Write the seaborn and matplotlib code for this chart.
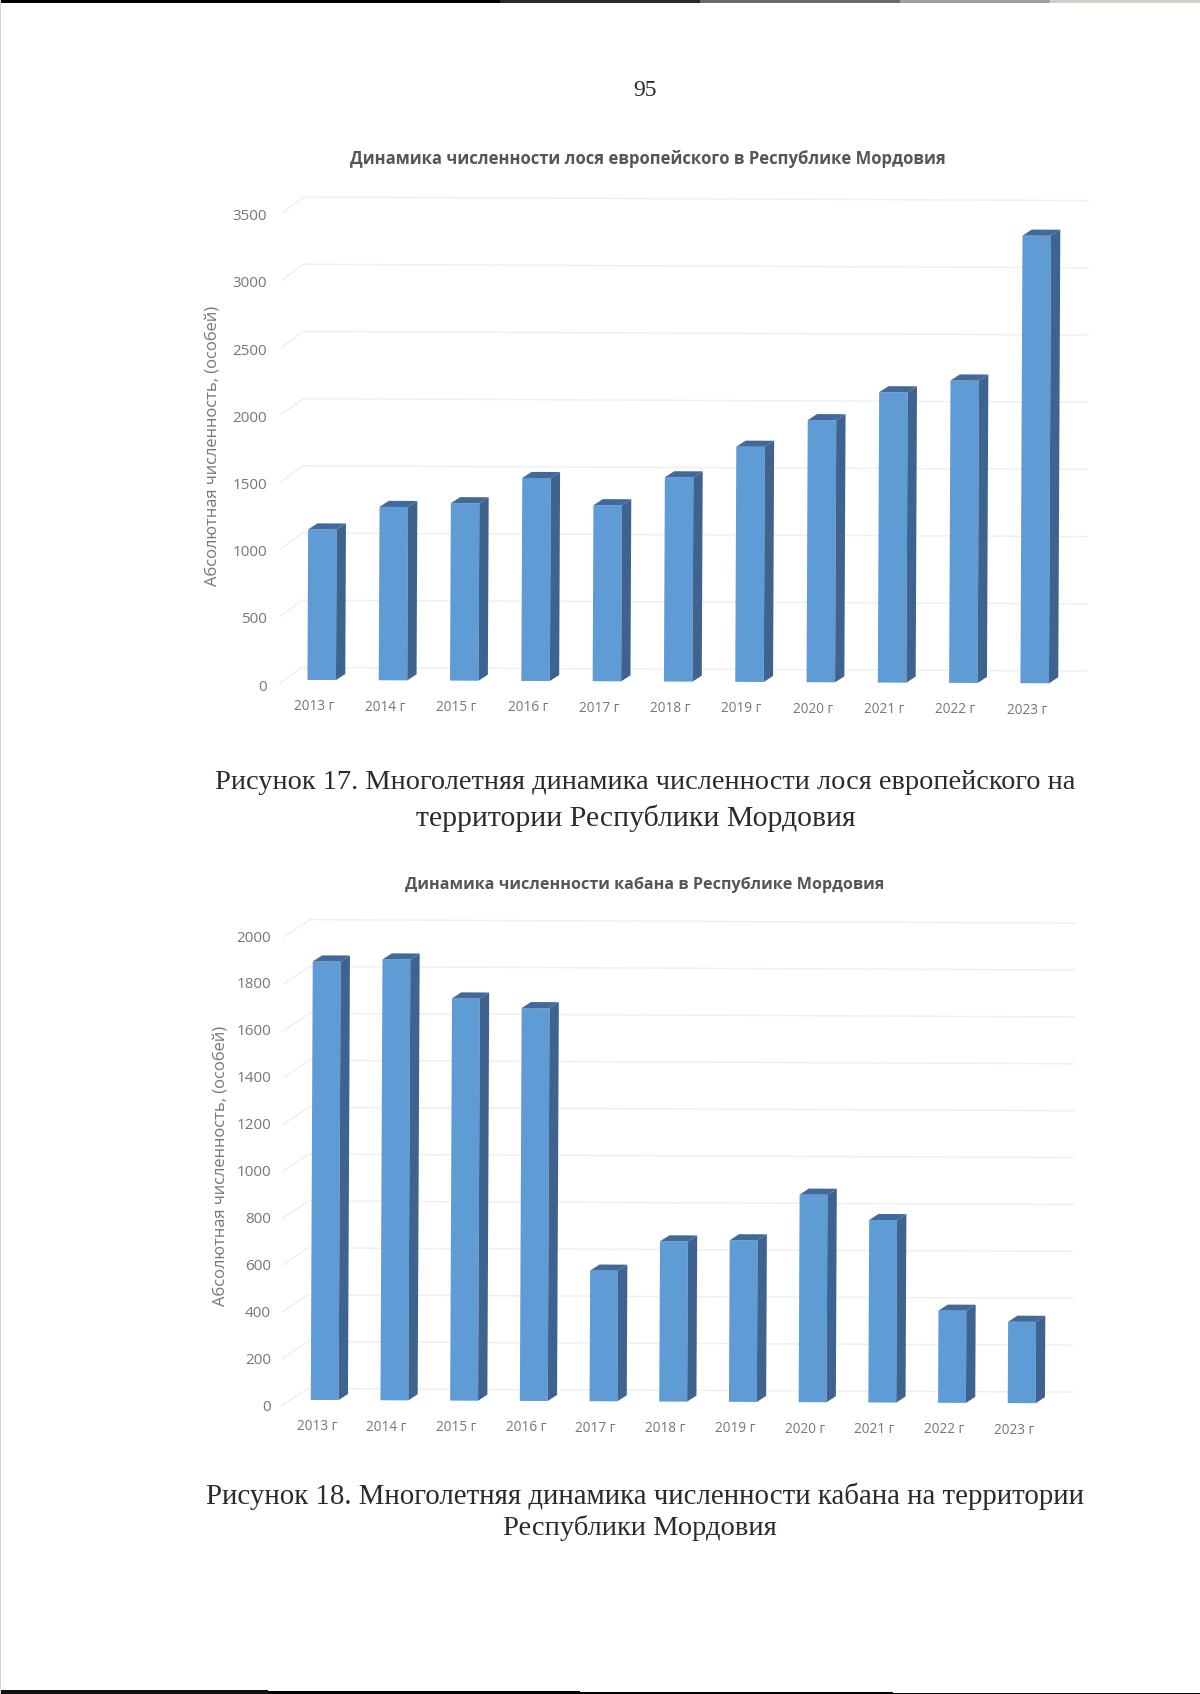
import matplotlib
matplotlib.use('Agg')
import matplotlib.pyplot as plt
import seaborn as sns
from matplotlib.patches import Polygon, Rectangle
from matplotlib.transforms import Affine2D

# Values
years = ['2013 г', '2014 г', '2015 г', '2016 г', '2017 г', '2018 г',
         '2019 г', '2020 г', '2021 г', '2022 г', '2023 г']
moose_counts = [1120, 1290, 1320, 1510, 1310, 1520, 1750, 1950, 2160, 2250, 3330]
boar_counts = [1870, 1880, 1715, 1675, 557, 683, 689, 885, 778, 393, 347]
moose_ticks = [0, 500, 1000, 1500, 2000, 2500, 3000, 3500]
boar_ticks = [0, 200, 400, 600, 800, 1000, 1200, 1400, 1600, 1800, 2000]

ylabel = 'Абсолютная численность, (особей)'
moose_title = 'Динамика численности лося европейского в Республике Мордовия'
boar_title = 'Динамика численности кабана в Республике Мордовия'

FRONT = '#5f9bd4'
SIDE = '#3f638f'
TOP = '#41699a'
GRID = '#eeeef3'
TICK = '#76767a'
TITLE = '#55555b'
CAPTION = '#2a2a2a'
PAGE_W, PAGE_H = 1200, 1694
TILT = -0.26  # the page was scanned slightly crooked

sns.set_style('white')
plt.rcParams['font.family'] = ['Open Sans', 'DejaVu Sans']

fig = plt.figure(figsize=(PAGE_W / 100, PAGE_H / 100), dpi=100, facecolor='white')

# pixel coordinates of the page, origin top left
page_px = Affine2D().scale(1, -1).translate(0, PAGE_H)


def draw_chart(values, ticks, left, width, base, scale, centre0, step,
               bar_depth, wall_depth, wall_back, wall_front,
               label_right, ylabel_x, ylabel_y):
    ymax = ticks[-1]
    ax = fig.add_axes([left / PAGE_W, (PAGE_H - base) / PAGE_H,
                       width / PAGE_W, ymax * scale / PAGE_H])
    ax.patch.set_visible(False)
    rot = Affine2D().rotate_deg_around(centre0, PAGE_H - base, TILT)
    tr = ax.transData + rot

    sns.barplot(x=years, y=values, color=FRONT, saturation=1, width=0.4,
                edgecolor='none', ax=ax, zorder=3)
    lo = (left - centre0) / step
    hi = lo + width / step
    ax.set_xlim(lo, hi)
    ax.set_ylim(0, ymax)
    ax.set_yticks(ticks)
    sns.despine(ax=ax, left=True, bottom=True)
    ax.tick_params(axis='y', length=0, pad=(left - label_right) * 0.72,
                   labelsize=11, labelcolor=TICK)
    ax.tick_params(axis='x', length=0, pad=14, labelsize=9.8, labelcolor=TICK)
    ax.set_xlabel('')

    # 3D faces of each bar, built from the bars themselves
    dx = bar_depth[0] / step
    dy = bar_depth[1] / scale
    for bar in list(ax.patches):
        x0 = bar.get_x()
        x1 = x0 + bar.get_width()
        h = bar.get_height()
        bar.set_transform(tr)
        bar.set_clip_on(False)
        ax.add_patch(Polygon([(x1, 0), (x1 + dx, dy), (x1 + dx, h + dy), (x1, h)],
                             facecolor=SIDE, edgecolor='none', transform=tr,
                             clip_on=False, zorder=3))
        ax.add_patch(Polygon([(x0, h), (x1, h), (x1 + dx, h + dy), (x0 + dx, h + dy)],
                             facecolor=TOP, edgecolor='none', transform=tr,
                             clip_on=False, zorder=3))

    # gridlines run along the back wall, with a short diagonal on the left side
    wx = wall_depth / step
    for v in ticks:
        ax.plot([lo, lo + wx, hi + wx],
                [v + wall_front / scale, v + wall_back / scale, v + wall_back / scale],
                color=GRID, lw=1, transform=tr, clip_on=False, zorder=1)

    for lbl in ax.get_xticklabels():
        lbl.set_transform(lbl.get_transform() + Affine2D().translate(-7.7, 0) + rot)
    for lbl in ax.get_yticklabels():
        lbl.set_transform(lbl.get_transform() + Affine2D().translate(0, -5))

    ax.set_ylabel(ylabel, fontsize=11.9, color=TICK)
    ax.yaxis.set_label_coords(ylabel_x, PAGE_H - ylabel_y, transform=Affine2D())
    return ax


draw_chart(moose_counts, moose_ticks, left=280, width=785, base=680, scale=0.1344,
           centre0=321.7, step=71.3, bar_depth=(9.3, 6.1), wall_depth=21.7,
           wall_back=12.5, wall_front=-3.6, label_right=267, ylabel_x=222, ylabel_y=446)
draw_chart(boar_counts, boar_ticks, left=281.7, width=765, base=1400, scale=0.2345,
           centre0=324.7, step=69.7, bar_depth=(9.3, 6.1), wall_depth=26,
           wall_back=11.3, wall_front=-6, label_right=271, ylabel_x=229, ylabel_y=1166)

# chart titles
fig.text(648, 159, moose_title, transform=page_px, ha='center', va='center',
         fontsize=11.95, fontweight='bold', color=TITLE)
fig.text(644.5, 885, boar_title, transform=page_px, ha='center', va='center',
         fontsize=11.65, fontweight='bold', color=TITLE)

# surrounding page text
serif = ['Liberation Serif', 'DejaVu Serif']
fig.text(645, 90, '95', transform=page_px, ha='center', va='center',
         fontsize=17, family=serif, color=CAPTION)
fig.text(645, 782.5, 'Рисунок 17. Многолетняя динамика численности лося европейского на',
         transform=page_px, ha='center', va='center', fontsize=20.4, family=serif, color=CAPTION)
fig.text(636, 818, 'территории Республики Мордовия',
         transform=page_px, ha='center', va='center', fontsize=21.4, family=serif, color=CAPTION)
fig.text(645, 1496, 'Рисунок 18. Многолетняя динамика численности кабана на территории',
         transform=page_px, ha='center', va='center', fontsize=20.8, family=serif, color=CAPTION)
fig.text(640, 1528, 'Республики Мордовия',
         transform=page_px, ha='center', va='center', fontsize=20.5, family=serif, color=CAPTION)

# scanner edges
for x, w, h, c in [(0, 500, 3, '#000000'), (500, 200, 3, '#2a2a2a'), (700, 200, 3, '#6a6a6a'),
                   (900, 150, 3, '#a0a0a0'), (1050, 150, 3, '#cfcfc8')]:
    fig.add_artist(Rectangle((x, 0), w, h, transform=page_px, facecolor=c, edgecolor='none'))
for x, w, y, c in [(0, 268, 1690, '#111111'), (268, 312, 1691, '#000000'),
                   (580, 313, 1692, '#000000'), (893, 307, 1693, '#000000')]:
    fig.add_artist(Rectangle((x, y), w, PAGE_H - y, transform=page_px, facecolor=c, edgecolor='none'))
fig.add_artist(Rectangle((0, 0), 1, PAGE_H, transform=page_px, facecolor='#d4d4d4', edgecolor='none'))

fig.savefig('out.png', dpi=100)
